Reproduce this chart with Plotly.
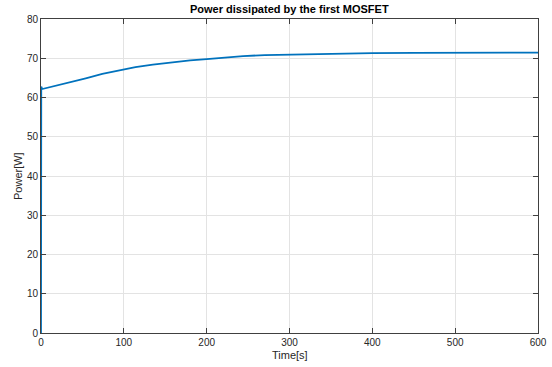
import plotly.graph_objects as go

time_s = [0, 0.3, 1.5, 14, 34, 54, 74, 100, 114, 135, 160, 180, 200, 220, 244, 270, 300,
          350, 400, 450, 500, 550, 600]
power_w = [0, 62.8, 62.15, 62.85, 63.8, 64.9, 66.0, 67.25, 67.75, 68.4, 69.05, 69.45, 69.8,
           70.2, 70.55, 70.8, 70.95, 71.15, 71.3, 71.35, 71.4, 71.42, 71.45]

x_ticks = [0, 100, 200, 300, 400, 500, 600]
y_ticks = [0, 10, 20, 30, 40, 50, 60, 70, 80]

FONT = "Liberation Sans, Arial, sans-serif"

fig = go.Figure()
fig.add_trace(go.Scatter(x=time_s, y=power_w, mode="lines",
                         line=dict(color="#0072BD", width=1.8), showlegend=False))

axis_common = dict(
    showline=True, linecolor="#404040", linewidth=1, mirror="ticks",
    ticks="inside", ticklen=5, tickcolor="#404040", tickwidth=1,
    showgrid=True, gridcolor="#e3e3e3", gridwidth=1, zeroline=False,
    automargin=False,
    tickfont=dict(family=FONT, size=10, color="#262626"),
)

fig.update_layout(
    width=552, height=367,
    margin=dict(l=41, r=14, t=19, b=34),
    paper_bgcolor="white", plot_bgcolor="white",
    xaxis=dict(range=[0, 600], tickvals=x_ticks, **axis_common),
    yaxis=dict(range=[0, 80], tickvals=y_ticks, **axis_common),
    annotations=[
        dict(text="<b>Power dissipated by the first MOSFET</b>", xref="paper", yref="paper",
             x=0.5, y=1, yshift=10, xanchor="center", yanchor="middle", showarrow=False,
             font=dict(family=FONT, size=11, color="black")),
        dict(text="Time[s]", xref="paper", yref="paper", x=0.5, y=0, yshift=-22,
             xanchor="center", yanchor="middle", showarrow=False,
             font=dict(family=FONT, size=11, color="#262626")),
        dict(text="Power[W]", xref="paper", yref="paper", x=0, y=0.5, xshift=-23,
             xanchor="center", yanchor="middle", textangle=-90, showarrow=False,
             font=dict(family=FONT, size=11, color="#262626")),
    ],
)

fig.write_html("out.html")
